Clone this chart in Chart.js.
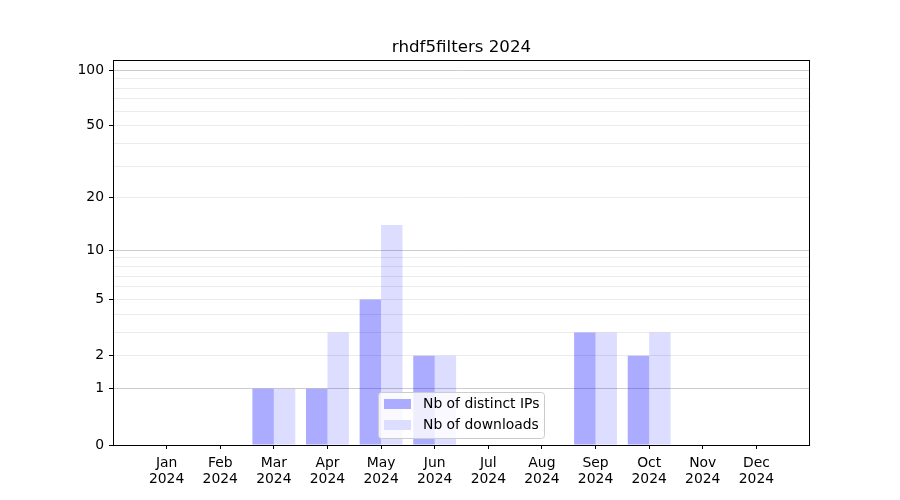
<!DOCTYPE html>
<html>
<head>
<meta charset="utf-8">
<script src="https://cdn.jsdelivr.net/npm/chart.js@4/dist/chart.umd.min.js"></script>
<style>
  html, body { margin: 0; padding: 0; background: #ffffff; }
  #wrap { width: 900px; height: 500px; }
</style>
</head>
<body>
<div id="wrap"><canvas id="downloadsChart"></canvas></div>
<script>
const MONTHS = ['Jan', 'Feb', 'Mar', 'Apr', 'May', 'Jun', 'Jul', 'Aug', 'Sep', 'Oct', 'Nov', 'Dec'];
const YEAR = '2024';
const DISTINCT_IPS = [0, 0, 1, 1, 5, 2, 0, 0, 3, 2, 0, 0];
const DOWNLOADS = [0, 0, 1, 3, 14, 2, 0, 0, 3, 3, 0, 0];
const Y_TICK_LABELS = [0, 1, 2, 5, 10, 20, 50, 100];
const Y_GRID_VALUES = [0, 1, 2, 3, 4, 5, 6, 7, 8, 9, 10, 20, 30, 40, 50, 60, 70, 80, 90, 100];
const Y_MAJOR_GRID = [1, 10, 100];
const TITLE = 'rhdf5filters 2024';

const FONT = "'DejaVu Sans', sans-serif";

// y axis spaced like log10(1 + v), so 0 fits on it
class Log1pScale extends Chart.LinearScale {
    static id = 'log1p';
    static defaults = Chart.LinearScale.defaults;

    buildTicks() {
        return Y_GRID_VALUES.map(v => ({ value: v }));
    }
    getPixelForValue(value) {
        const a = Math.log10(1 + this.min);
        const b = Math.log10(1 + this.max);
        return this.getPixelForDecimal((Math.log10(1 + value) - a) / (b - a));
    }
    getValueForPixel(pixel) {
        const a = Math.log10(1 + this.min);
        const b = Math.log10(1 + this.max);
        return Math.pow(10, a + this.getDecimalForPixel(pixel) * (b - a)) - 1;
    }
}
Chart.register(Log1pScale);

// one empty slot on each side, like the original x limits
const labels = [''].concat(MONTHS.map(m => [m, YEAR]), ['']);
const pad = arr => [null].concat(arr, [null]);

const framePlugin = {
    id: 'frameAndLegend',
    afterDatasetsDraw(chart) {
        const { ctx, chartArea } = chart;
        ctx.save();

        // title, centred on the plot
        ctx.font = '16.67px ' + FONT;
        ctx.fillStyle = '#000000';
        ctx.textAlign = 'center';
        ctx.textBaseline = 'alphabetic';
        ctx.fillText(TITLE, (chartArea.left + chartArea.right) / 2, 52);

        // legend inside the plot, lower middle
        const lx = 378.5, ly = 392.5, lw = 166, lh = 46, r = 3;
        ctx.beginPath();
        ctx.roundRect(lx, ly, lw, lh, r);
        ctx.fillStyle = 'rgba(255,255,255,0.8)';
        ctx.fill();
        ctx.strokeStyle = '#cccccc';
        ctx.lineWidth = 1;
        ctx.stroke();

        ctx.font = '13.9px ' + FONT;
        ctx.textAlign = 'left';
        ctx.textBaseline = 'middle';
        chart.data.datasets.forEach((ds, i) => {
            const y = 399 + i * 21;
            ctx.fillStyle = '#ffffff';
            ctx.fillRect(384, y, 27, 10);
            ctx.fillStyle = ds.backgroundColor;
            ctx.fillRect(384, y, 27, 10);
            ctx.fillStyle = '#000000';
            ctx.fillText(ds.label, 423, y + 5);
        });

        // box round the plot
        ctx.strokeStyle = '#000000';
        ctx.lineWidth = 1;
        ctx.strokeRect(Math.round(chartArea.left) + 0.5, Math.round(chartArea.top) + 0.5,
            Math.round(chartArea.right - chartArea.left) - 1, Math.round(chartArea.bottom - chartArea.top));
        ctx.restore();
    }
};

new Chart(document.getElementById('downloadsChart'), {
    type: 'bar',
    data: {
        labels: labels,
        datasets: [{
            label: 'Nb of distinct IPs',
            data: pad(DISTINCT_IPS),
            backgroundColor: 'rgba(0,0,255,0.33)',
            categoryPercentage: 0.8,
            barPercentage: 1.0
        }, {
            label: 'Nb of downloads',
            data: pad(DOWNLOADS),
            backgroundColor: 'rgba(0,0,255,0.133)',
            categoryPercentage: 0.8,
            barPercentage: 1.0
        }]
    },
    options: {
        responsive: true,
        maintainAspectRatio: false,
        animation: false,
        layout: { padding: { left: 0, right: 90, top: 60, bottom: 0 } },
        plugins: {
            legend: { display: false },
            tooltip: { enabled: false },
            title: { display: false }
        },
        scales: {
            x: {
                type: 'category',
                offset: false,
                border: { display: false },
                grid: {
                    offset: false,
                    drawOnChartArea: false,
                    drawTicks: true,
                    tickLength: 4,
                    tickColor: c => (c.index === 0 || c.index === labels.length - 1) ? 'rgba(0,0,0,0)' : '#000000'
                },
                ticks: {
                    autoSkip: false,
                    maxRotation: 0,
                    padding: 6,
                    color: '#000000',
                    font: { family: FONT, size: 13.9, lineHeight: 1.15 }
                },
                afterFit: s => { s.height = 55; }
            },
            y: {
                type: 'log1p',
                min: 0,
                max: 113.5,
                border: { display: false },
                grid: {
                    drawOnChartArea: true,
                    tickLength: 4,
                    color: c => {
                        const v = c.tick ? c.tick.value : null;
                        if (v === 0) return 'rgba(0,0,0,0)';
                        return Y_MAJOR_GRID.includes(v) ? '#cccccc' : '#ebebeb';
                    },
                    tickColor: c => (c.tick && Y_TICK_LABELS.includes(c.tick.value)) ? '#000000' : 'rgba(0,0,0,0)'
                },
                ticks: {
                    autoSkip: false,
                    padding: 5,
                    color: '#000000',
                    font: { family: FONT, size: 13.9 },
                    callback: v => Y_TICK_LABELS.includes(v) ? String(v) : ''
                },
                afterFit: s => { s.width = 113; }
            }
        }
    },
    plugins: [framePlugin]
});
</script>
</body>
</html>
